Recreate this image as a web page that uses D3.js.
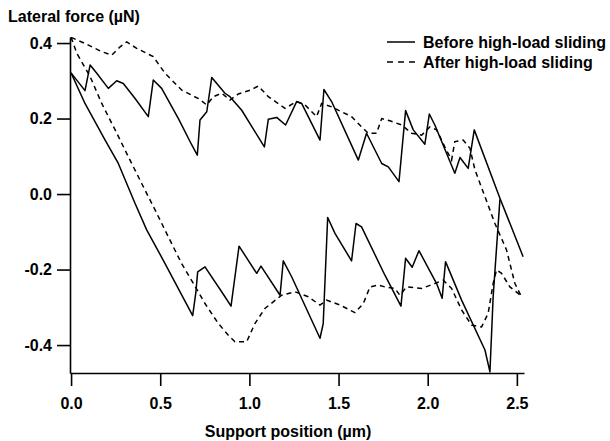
<!DOCTYPE html>
<html>
<head>
<meta charset="utf-8">
<script src="https://cdn.jsdelivr.net/npm/d3@7"></script>
<style>
  html, body { margin: 0; padding: 0; background: #fff; }
  svg { display: block; }
  text { font-family: "Liberation Sans", Arial, sans-serif; font-weight: bold; fill: #000; }
</style>
</head>
<body>
<svg id="chart" width="610" height="441"></svg>
<script>
// ---- data (x in µm, lateral force in µN) ----
const xTicks = [0.0, 0.5, 1.0, 1.5, 2.0, 2.5];
const yTicks = [-0.4, -0.2, 0.0, 0.2, 0.4];
const seriesNames = ["Before high-load sliding", "After high-load sliding"];

const beforeUpper = [
  [0.000,0.321],[0.078,0.274],[0.107,0.342],[0.144,0.320],[0.209,0.280],[0.256,0.300],
  [0.293,0.293],[0.359,0.253],[0.433,0.205],[0.461,0.302],[0.508,0.280],[0.602,0.200],
  [0.677,0.130],[0.708,0.103],[0.723,0.196],[0.761,0.218],[0.789,0.309],[0.863,0.267],
  [0.891,0.258],[0.957,0.222],[1.084,0.125],[1.106,0.198],[1.153,0.203],[1.203,0.183],
  [1.265,0.245],[1.293,0.240],[1.396,0.143],[1.418,0.277],[1.461,0.245],[1.611,0.090],
  [1.657,0.161],[1.742,0.081],[1.779,0.072],[1.839,0.033],[1.876,0.221],[1.919,0.170],
  [1.984,0.132],[2.009,0.212],[2.040,0.183],[2.152,0.055],[2.181,0.097],[2.227,0.068],
  [2.261,0.170],[2.405,-0.011],[2.535,-0.166]
];
const beforeLower = [
  [0.000,0.321],[0.078,0.240],[0.191,0.143],[0.265,0.081],[0.359,-0.025],[0.424,-0.095],
  [0.527,-0.184],[0.682,-0.322],[0.700,-0.260],[0.710,-0.206],[0.751,-0.193],[0.863,-0.272],
  [0.897,-0.297],[0.942,-0.138],[1.041,-0.210],[1.065,-0.191],[1.172,-0.268],[1.190,-0.177],
  [1.237,-0.219],[1.396,-0.382],[1.414,-0.343],[1.439,-0.062],[1.480,-0.104],[1.573,-0.177],
  [1.598,-0.078],[1.629,-0.087],[1.760,-0.215],[1.850,-0.297],[1.876,-0.170],[1.913,-0.194],
  [1.951,-0.150],[2.050,-0.237],[2.081,-0.276],[2.100,-0.179],[2.190,-0.281],[2.321,-0.413],
  [2.349,-0.471],[2.367,-0.272],[2.405,-0.014]
];
const afterUpper = [
  [0.000,0.415],[0.078,0.399],[0.172,0.377],[0.228,0.368],[0.275,0.390],[0.312,0.403],
  [0.368,0.386],[0.461,0.364],[0.527,0.320],[0.621,0.275],[0.714,0.253],[0.761,0.236],
  [0.798,0.258],[0.845,0.267],[0.891,0.249],[0.938,0.265],[1.003,0.275],[1.050,0.286],
  [1.106,0.258],[1.200,0.227],[1.265,0.245],[1.312,0.236],[1.377,0.205],[1.405,0.240],
  [1.461,0.231],[1.573,0.205],[1.629,0.178],[1.667,0.161],[1.713,0.161],[1.742,0.200],
  [1.788,0.194],[1.854,0.183],[1.910,0.161],[1.966,0.156],[2.012,0.178],[2.050,0.170],
  [2.096,0.125],[2.134,0.090],[2.152,0.139],[2.199,0.143],[2.237,0.121],[2.265,0.064],
  [2.321,-0.007],[2.377,-0.078],[2.442,-0.148],[2.489,-0.237],[2.526,-0.272]
];
const afterLower = [
  [0.000,0.415],[0.032,0.373],[0.107,0.311],[0.172,0.240],[0.247,0.170],[0.321,0.099],
  [0.396,0.028],[0.471,-0.042],[0.545,-0.113],[0.620,-0.184],[0.686,-0.237],[0.751,-0.290],
  [0.826,-0.343],[0.882,-0.374],[0.919,-0.391],[0.985,-0.391],[1.031,-0.343],[1.087,-0.303],
  [1.181,-0.268],[1.256,-0.259],[1.330,-0.272],[1.396,-0.294],[1.433,-0.281],[1.508,-0.294],
  [1.592,-0.314],[1.639,-0.290],[1.676,-0.246],[1.723,-0.241],[1.760,-0.246],[1.816,-0.250],
  [1.844,-0.268],[1.882,-0.246],[1.966,-0.250],[2.040,-0.237],[2.087,-0.228],[2.134,-0.250],
  [2.190,-0.307],[2.246,-0.347],[2.302,-0.352],[2.339,-0.316],[2.367,-0.237],[2.386,-0.201],
  [2.414,-0.210],[2.461,-0.246],[2.507,-0.263],[2.526,-0.272]
];

// ---- chart ----
const svg = d3.select("#chart");
const x = d3.scaleLinear().domain([-0.006, 2.54]).range([70, 524]);
const y = d3.scaleLinear().domain([-0.474, 0.416]).range([373, 37]);
const fmt = d => d.toFixed(1);

const yAxis = svg.append("g").attr("transform", "translate(70,0)")
  .call(d3.axisLeft(y).tickValues(yTicks).tickFormat(fmt).tickSize(13).tickSizeOuter(0).tickPadding(5));
const xAxis = svg.append("g").attr("transform", "translate(0,373)")
  .call(d3.axisBottom(x).tickValues(xTicks).tickFormat(fmt).tickSize(13).tickSizeOuter(0).tickPadding(12));
[xAxis, yAxis].forEach(g => {
  g.selectAll("path, line").attr("stroke", "#000").attr("stroke-width", 1.6);
  g.selectAll("text").attr("font-size", 16).attr("font-family", "Liberation Sans, Arial, sans-serif").attr("font-weight", "bold");
});

const line = d3.line().x(d => x(d[0])).y(d => y(d[1]));
const solid = [beforeUpper, beforeLower];
const dashed = [afterUpper, afterLower];
svg.selectAll("path.solid").data(solid).enter().append("path")
  .attr("class", "solid").attr("d", line).attr("fill", "none")
  .attr("stroke", "#000").attr("stroke-width", 1.5).attr("stroke-linejoin", "round");
svg.selectAll("path.dashed").data(dashed).enter().append("path")
  .attr("class", "dashed").attr("d", line).attr("fill", "none")
  .attr("stroke", "#000").attr("stroke-width", 1.5).attr("stroke-dasharray", "5,4");

// titles
svg.append("text").attr("x", 8).attr("y", 22).attr("font-size", 16).text("Lateral force (µN)");
svg.append("text").attr("x", 288).attr("y", 437).attr("text-anchor", "middle").attr("font-size", 16).text("Support position (µm)");

// legend
const legend = svg.append("g");
seriesNames.forEach((name, i) => {
  const ly = 42 + i * 20;
  legend.append("line").attr("x1", 387).attr("x2", 415).attr("y1", ly).attr("y2", ly)
    .attr("stroke", "#000").attr("stroke-width", 1.5)
    .attr("stroke-dasharray", i === 0 ? null : "6,5");
  legend.append("text").attr("x", 423).attr("y", ly + 5.5).attr("font-size", 16).text(name);
});
</script>
</body>
</html>
